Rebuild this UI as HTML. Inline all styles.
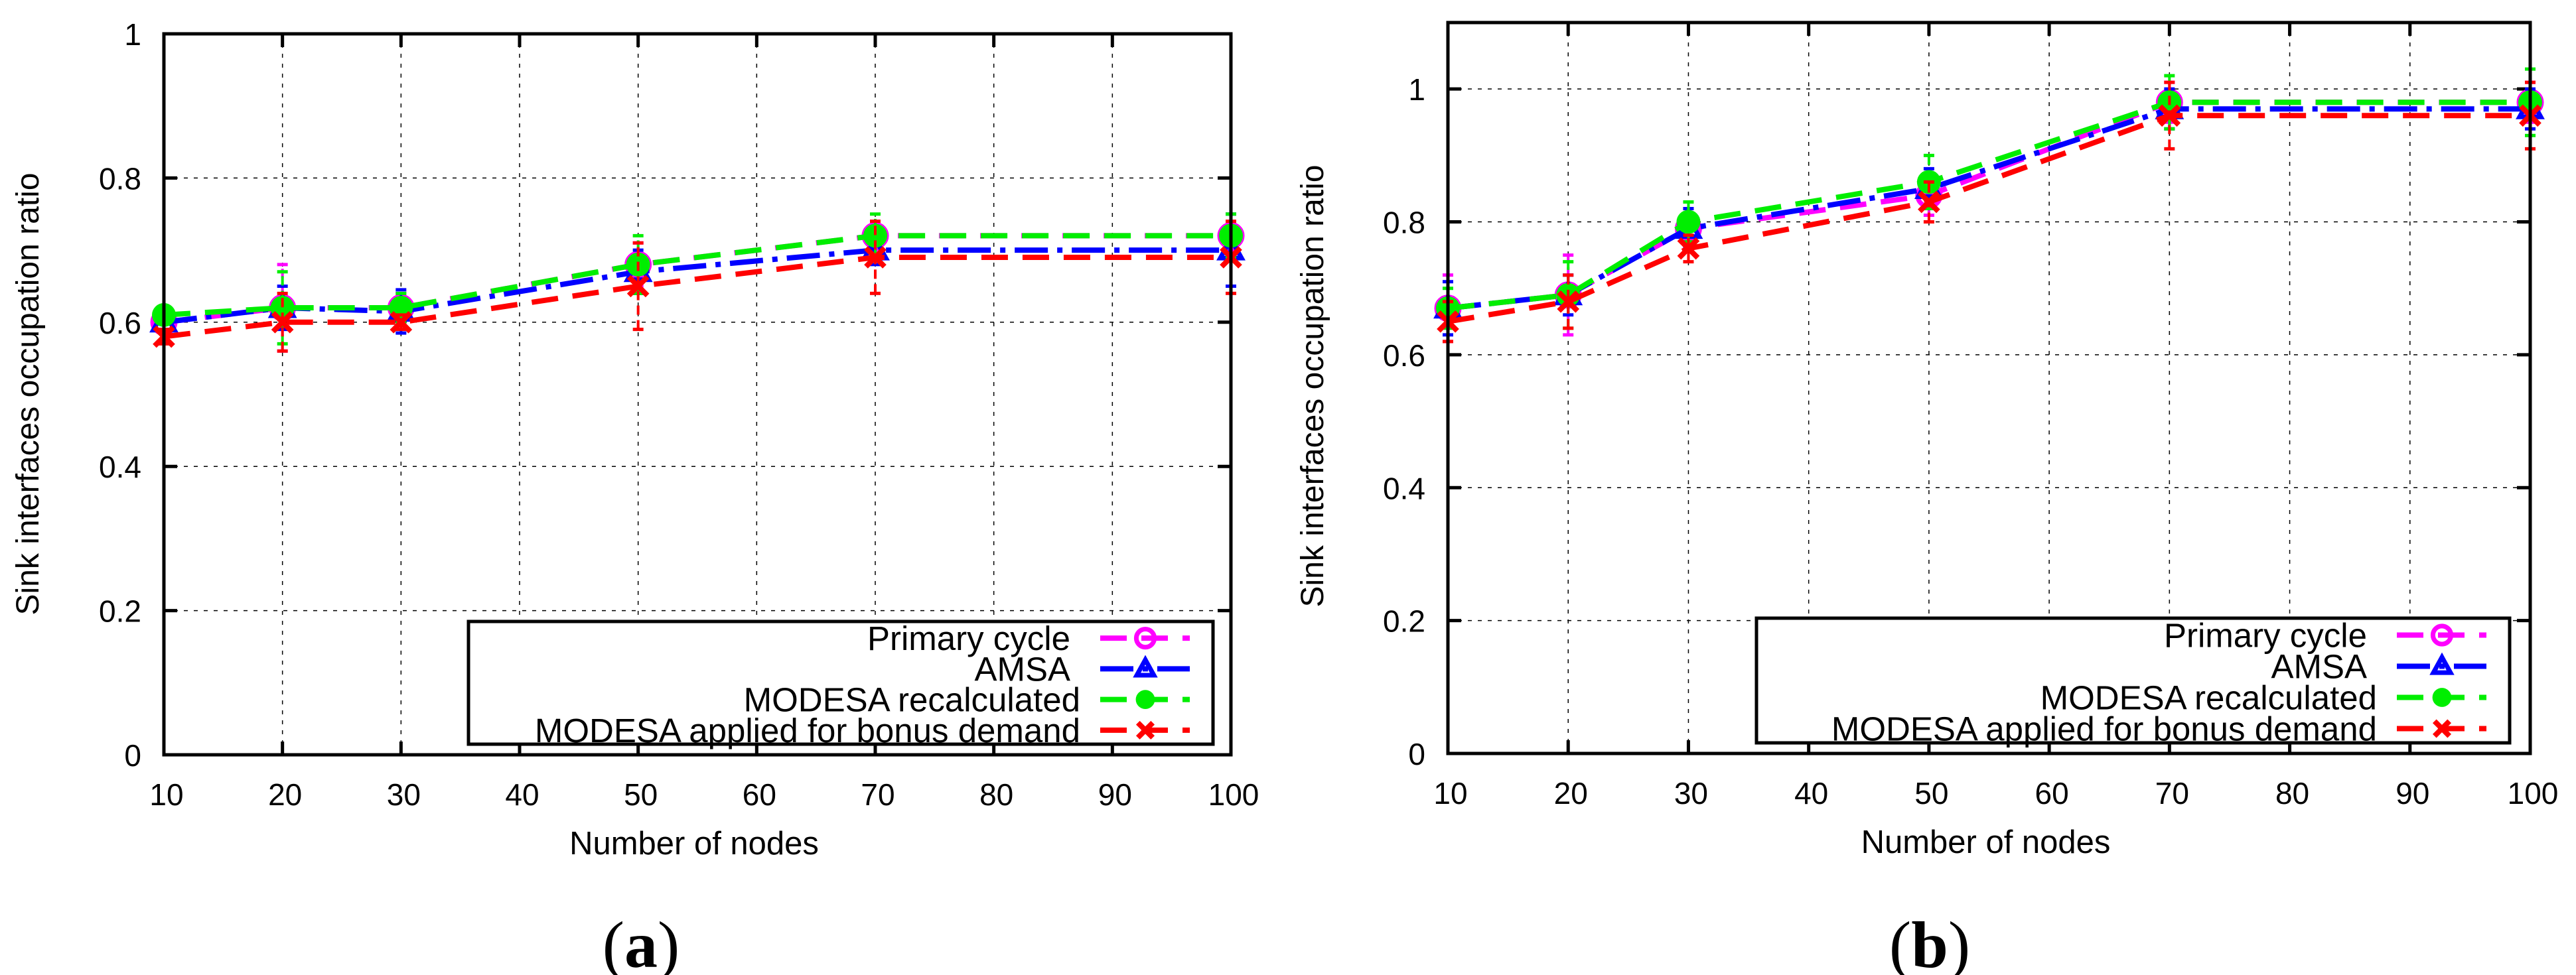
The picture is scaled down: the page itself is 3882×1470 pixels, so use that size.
<!DOCTYPE html>
<html><head><meta charset="utf-8"><style>
html,body{margin:0;padding:0;background:#fff;}
svg{display:block;font-family:"Liberation Sans",sans-serif;}
</style></head><body>
<svg id="fig" width="3882" height="1470" viewBox="0 0 3882 1470" xmlns="http://www.w3.org/2000/svg"></svg>
<script>
const xCats = [10,20,30,50,70,100];
const xTicks = [10,20,30,40,50,60,70,80,90,100];
const seriesNames = ["Primary cycle","AMSA","MODESA recalculated","MODESA applied for bonus demand"];
const yTicksA = [0,0.2,0.4,0.6,0.8,1];
const yTickLabelsA = ["0","0.2","0.4","0.6","0.8","1"];
const yTicksB = [0,0.2,0.4,0.6,0.8,1];
const yTickLabelsB = ["0","0.2","0.4","0.6","0.8","1"];
// chart (a)
const aPrimary = [0.60,0.62,0.62,0.68,0.72,0.72];
const aPrimaryErr = [0.01,0.06,0.02,0.03,0.02,0.02];
const aAmsa = [0.60,0.62,0.615,0.67,0.70,0.70];
const aAmsaErr = [0.01,0.03,0.03,0.03,0.02,0.05];
const aRecalc = [0.61,0.62,0.62,0.68,0.72,0.72];
const aRecalcErr = [0.01,0.05,0.02,0.04,0.03,0.03];
const aBonus = [0.58,0.60,0.60,0.65,0.69,0.69];
const aBonusErr = [0.01,0.04,0.01,0.06,0.05,0.05];
// chart (b)
const bPrimary = [0.67,0.69,0.79,0.84,0.98,0.98];
const bPrimaryErr = [0.05,0.06,0.03,0.03,0.03,0.03];
const bAmsa = [0.67,0.69,0.79,0.85,0.97,0.97];
const bAmsaErr = [0.04,0.03,0.03,0.03,0.03,0.03];
const bRecalc = [0.67,0.69,0.80,0.86,0.98,0.98];
const bRecalcErr = [0.03,0.05,0.03,0.04,0.04,0.05];
const bBonus = [0.65,0.68,0.76,0.83,0.96,0.96];
const bBonusErr = [0.03,0.04,0.02,0.03,0.05,0.05];

const NS = "http://www.w3.org/2000/svg";
const svg = document.getElementById('fig');
function mk(tag, attrs, parent){const e=document.createElementNS(NS,tag);for(const k in attrs)e.setAttribute(k,attrs[k]);(parent||svg).appendChild(e);return e;}

const styles = [
  {color:"#ff00ff", dash:"40,22", marker:"circle"},
  {color:"#0000ff", dash:"50,14,8,14", marker:"tri"},
  {color:"#00ee00", dash:"40,22", marker:"dot"},
  {color:"#ff0000", dash:"40,22", marker:"x"}
];

function marker(g, type, cx, cy, color, s){
  s = s||1;
  let m;
  if(type==="circle"){ m=mk('circle',{cx:cx,cy:cy,r:17*s,fill:'none',stroke:color,'stroke-width':7},g); }
  else if(type==="tri"){ m=mk('polygon',{points:`${cx},${cy-17*s} ${cx-16*s},${cy+12*s} ${cx+16*s},${cy+12*s}`,fill:'none',stroke:color,'stroke-width':7},g); }
  else if(type==="dot"){ m=mk('circle',{cx:cx,cy:cy,r:18*s,fill:color},g); }
  else { m=mk('path',{d:`M${cx-14*s},${cy-14*s}L${cx+14*s},${cy+14*s}M${cx-14*s},${cy+14*s}L${cx+14*s},${cy-14*s}`,stroke:color,'stroke-width':8,fill:'none'},g); }
  return m;
}

function drawChart(cfg){
  const g = mk('g',{});
  
  
  const {L,R,T,B,ymax} = cfg;
  const xs = v => L + (v-10)/90*(R-L);
  const ys = v => B - v/ymax*(B-T);
  const grid = mk('g',{},g);
  
  
  xTicks.forEach(t=>{ if(t>10&&t<100) mk('line',{x1:xs(t),x2:xs(t),y1:T,y2:B,stroke:'#000','stroke-width':1.5,'stroke-dasharray':'6,9'},grid); });
  cfg.yTicks.forEach(t=>{ if(t>0&&t<ymax) mk('line',{x1:L,x2:R,y1:ys(t),y2:ys(t),stroke:'#000','stroke-width':1.5,'stroke-dasharray':'6,9'},grid); });
  xTicks.forEach(t=>{
    mk('line',{x1:xs(t),x2:xs(t),y1:B,y2:B-20,stroke:'#000','stroke-width':5},g);
    mk('line',{x1:xs(t),x2:xs(t),y1:T,y2:T+20,stroke:'#000','stroke-width':5},g);
    const tx = mk('text',{x:xs(t)+4,y:B+76,'font-size':46,'text-anchor':'middle',fill:'#000'},g);
    tx.textContent = t;
    
    
  });
  cfg.yTicks.forEach((t,i)=>{
    mk('line',{x1:L,x2:L+20,y1:ys(t),y2:ys(t),stroke:'#000','stroke-width':5},g);
    mk('line',{x1:R,x2:R-20,y1:ys(t),y2:ys(t),stroke:'#000','stroke-width':5},g);
    const tx = mk('text',{x:L-34,y:ys(t)+17,'font-size':46,'text-anchor':'end',fill:'#000'},g);
    tx.textContent = cfg.yLabels[i];
    
    
  });
  cfg.series.forEach((s,si)=>{
    const st = styles[si];
    const sg = mk('g',{},g);
    
    
    s.vals.forEach((v,i)=>{
      const x=xs(xCats[i]), e=s.err[i];
      mk('line',{x1:x,x2:x,y1:ys(v-e),y2:ys(v+e),stroke:st.color,'stroke-width':4,'stroke-dasharray':'14,8'},sg);
      mk('line',{x1:x-8,x2:x+8,y1:ys(v-e),y2:ys(v-e),stroke:st.color,'stroke-width':5},sg);
      mk('line',{x1:x-8,x2:x+8,y1:ys(v+e),y2:ys(v+e),stroke:st.color,'stroke-width':5},sg);
    });
    const pts = s.vals.map((v,i)=>xs(xCats[i])+','+ys(v)).join(' ');
    const pl = mk('polyline',{points:pts,fill:'none',stroke:st.color,'stroke-width':8,'stroke-dasharray':st.dash},sg);
    
    
    s.vals.forEach((v,i)=>{
      const m = marker(sg, st.marker, xs(xCats[i]), ys(v), st.color, 1);
      
      
    });
  });
  mk('rect',{x:L,y:T,width:R-L,height:B-T,fill:'none',stroke:'#000','stroke-width':5},g);
  const lg = mk('g',{},g);
  
  
  const lx1=cfg.legL, ly1=cfg.legT, lx2=cfg.legR, ly2=cfg.legB;
  mk('rect',{x:lx1,y:ly1,width:lx2-lx1,height:ly2-ly1,fill:'#fff',stroke:'#000','stroke-width':5},lg);
  const rowH=(ly2-ly1)/4;
  seriesNames.forEach((n,i)=>{
    const st=styles[i];
    const cy=ly1+rowH*(i+0.5)+2;
    const le = mk('g',{},lg);
    
    
    const t=mk('text',{x:lx2-(i<2?215:200),y:cy+18,'font-size':51,'text-anchor':'end',fill:'#000',textLength:0},le);
    t.removeAttribute('textLength');
    t.textContent=n;
    mk('line',{x1:lx2-170,x2:lx2-35,y1:cy,y2:cy,stroke:st.color,'stroke-width':8,'stroke-dasharray':st.marker==='tri'?'50,14,8,14':'40,22'},le);
    marker(le, st.marker, lx2-102, cy, st.color, 0.8);
  });
  const xt=mk('text',{x:(L+R)/2-5,y:B+150,'font-size':49,'text-anchor':'middle',fill:'#000'},g);
  xt.textContent='Number of nodes';
  
  
  const yt=mk('text',{x:0,y:0,'font-size':48,'text-anchor':'middle',fill:'#000',transform:`translate(${cfg.ytX},${cfg.ytY}) rotate(-90)`},g);
  yt.textContent='Sink interfaces occupation ratio';
  
  
  const cap=mk('text',{x:cfg.capX,y:1458,'font-size':100,'text-anchor':'middle',fill:'#000','font-family':'"Liberation Serif",serif'},g);
  cap.innerHTML='(<tspan font-weight="bold">'+cfg.cap+'</tspan>)';
  
  
}

drawChart({name:'chart-a',L:247,R:1855,T:51,B:1138,ymax:1,yTicks:yTicksA,yLabels:yTickLabelsA,
  series:[{vals:aPrimary,err:aPrimaryErr},{vals:aAmsa,err:aAmsaErr},{vals:aRecalc,err:aRecalcErr},{vals:aBonus,err:aBonusErr}],
  legL:706,legT:937,legR:1828,legB:1122,ytX:58,ytY:594,capX:966,cap:'a'});
drawChart({name:'chart-b',L:2182,R:3813,T:34,B:1136,ymax:1.1,yTicks:yTicksB,yLabels:yTickLabelsB,
  series:[{vals:bPrimary,err:bPrimaryErr},{vals:bAmsa,err:bAmsaErr},{vals:bRecalc,err:bRecalcErr},{vals:bBonus,err:bBonusErr}],
  legL:2647,legT:932,legR:3782,legB:1120,ytX:1994,ytY:582,capX:2908,cap:'b'});
</script>
</body></html>
